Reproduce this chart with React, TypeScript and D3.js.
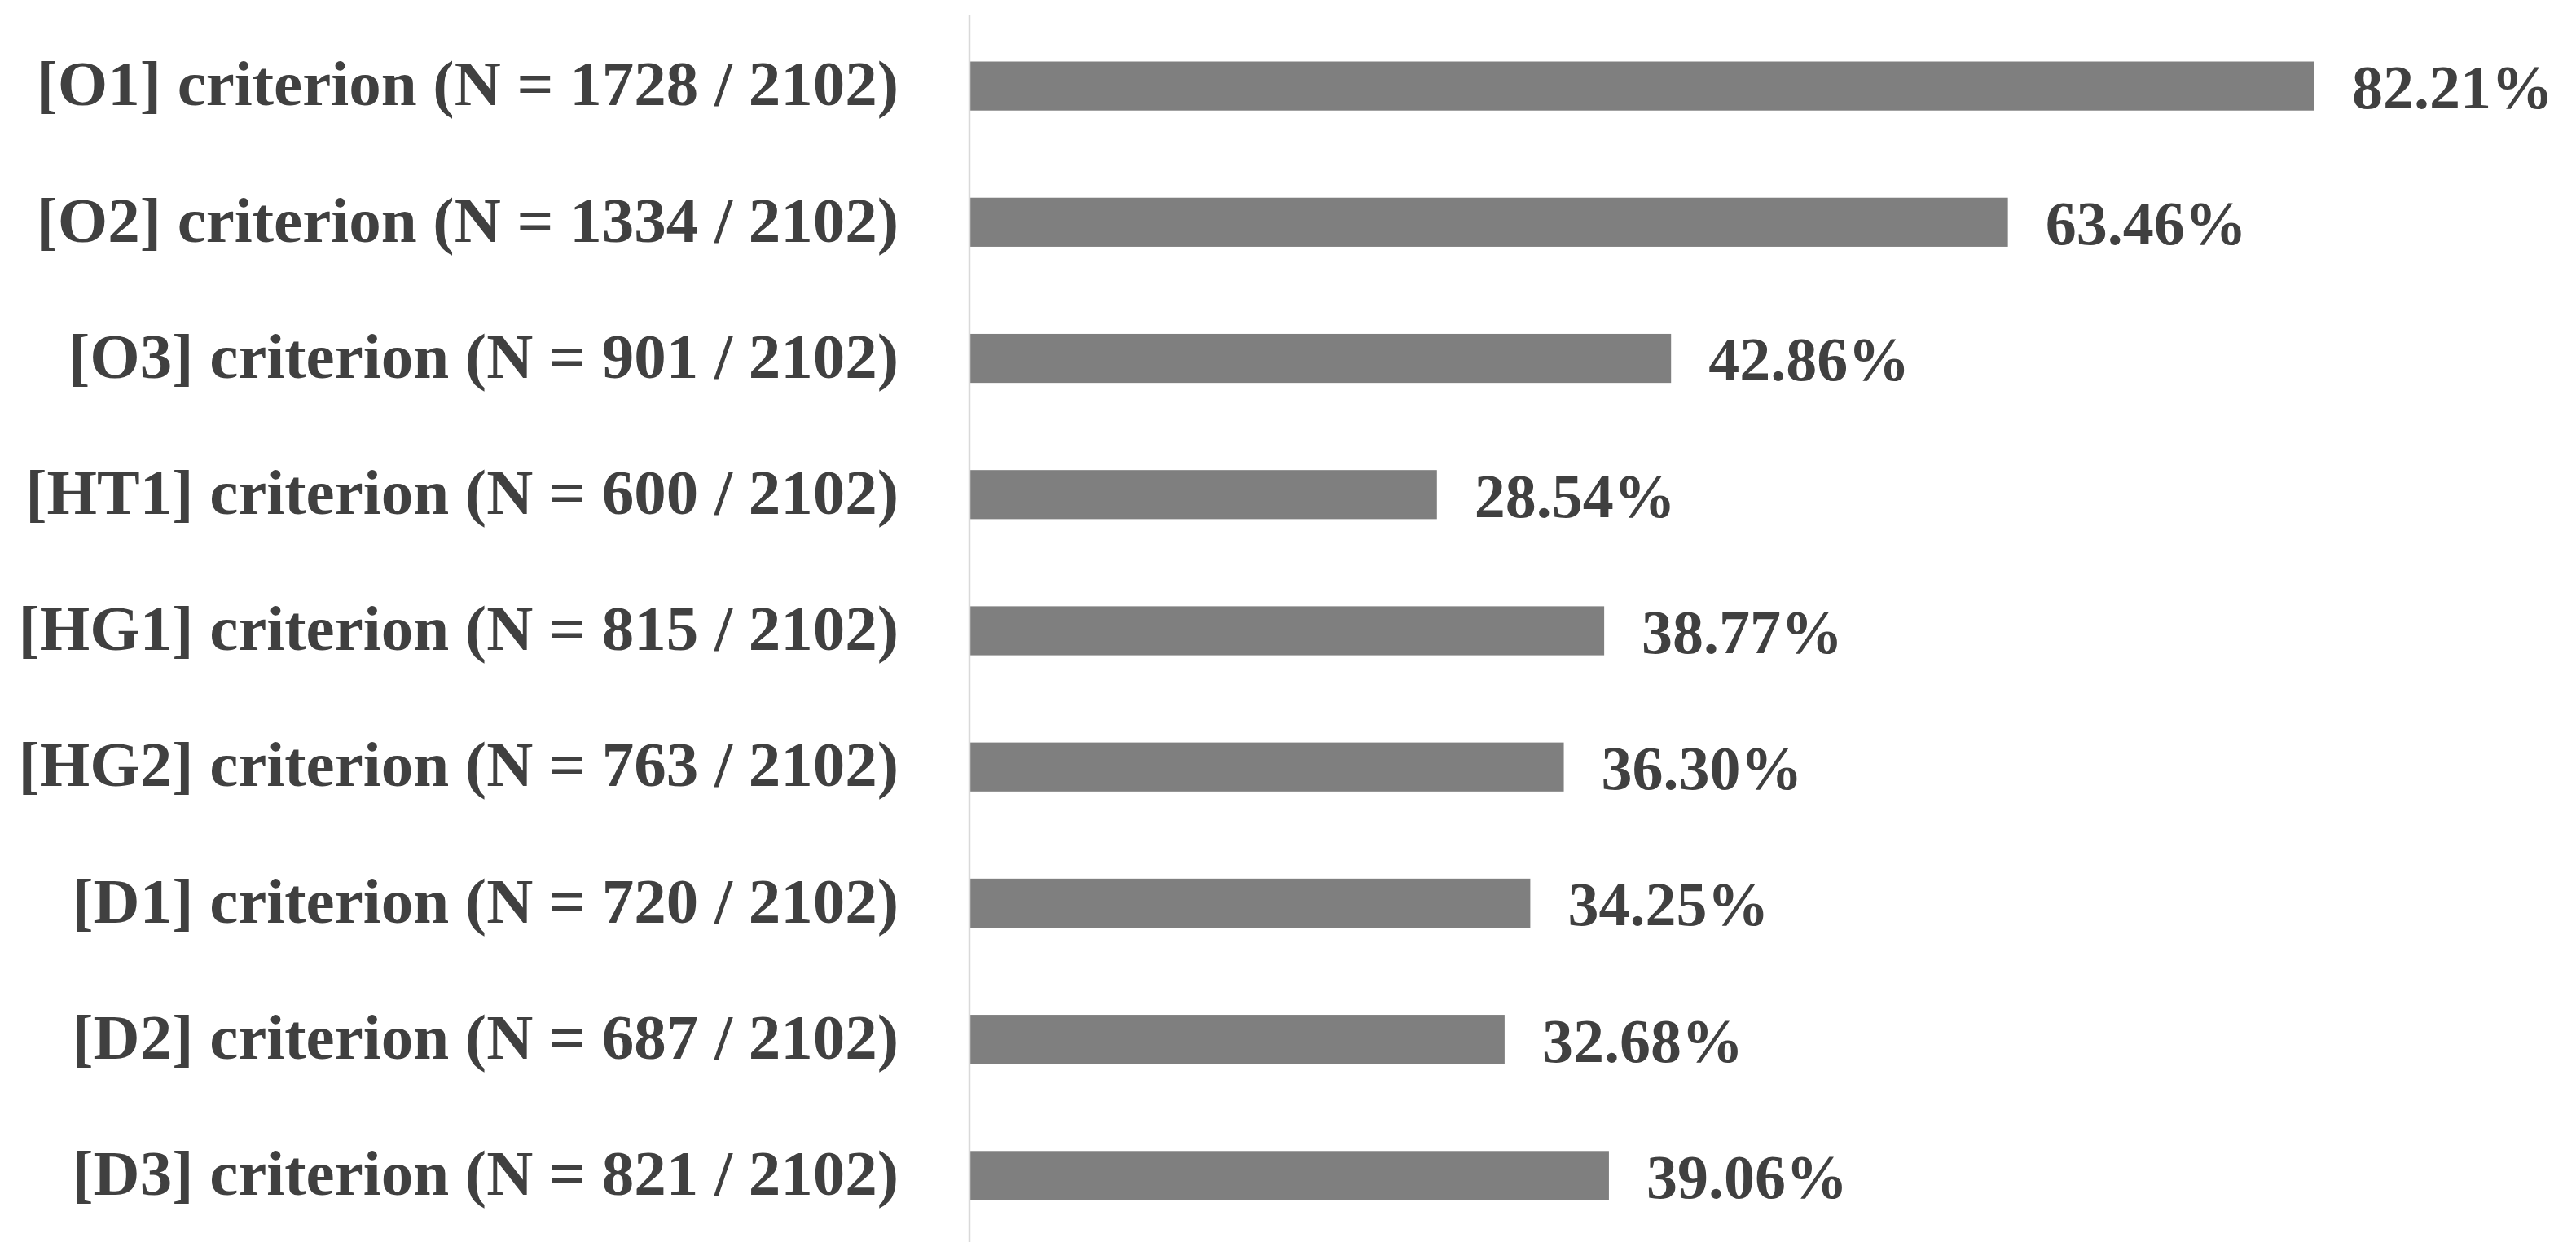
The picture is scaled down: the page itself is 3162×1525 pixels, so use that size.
import React from "react";
import * as d3 from "d3";

const categories: string[] = [
  "[O1] criterion (N = 1728 / 2102)",
  "[O2] criterion (N = 1334 / 2102)",
  "[O3] criterion (N = 901 / 2102)",
  "[HT1] criterion (N = 600 / 2102)",
  "[HG1] criterion (N = 815 / 2102)",
  "[HG2] criterion (N = 763 / 2102)",
  "[D1] criterion (N = 720 / 2102)",
  "[D2] criterion (N = 687 / 2102)",
  "[D3] criterion (N = 821 / 2102)",
];

const percentages: number[] = [82.21, 63.46, 42.86, 28.54, 38.77, 36.3, 34.25, 32.68, 39.06];

const W = 3162;
const H = 1525;
const AXIS_X = 1191;
const FONT = "'Liberation Serif', 'Times New Roman', serif";

export default function App() {
  const x = d3.scaleLinear().domain([0, 100]).range([AXIS_X, AXIS_X + 2007]);
  const y = d3
    .scaleBand<string>()
    .domain(categories)
    .range([22, 1527])
    .paddingInner(0.64)
    .paddingOuter(0.32);
  const bw = y.bandwidth();

  return (
    <svg
      width={W}
      height={H}
      style={{ position: "absolute", left: 0, top: 0, background: "#fff" }}
      xmlns="http://www.w3.org/2000/svg"
    >
      <rect x={0} y={0} width={W} height={H} fill="#ffffff" />
      {categories.map((c, i) => {
        const yc = (y(c) as number) + bw / 2;
        return (
          <g key={c}>
            <rect
              x={x(0)}
              y={y(c) as number}
              width={x(percentages[i]) - x(0)}
              height={bw}
              fill="#7f7f7f"
            />
            <text
              x={1103}
              y={yc}
              dy="0.3em"
              textAnchor="end"
              fontFamily={FONT}
              fontWeight="bold"
              fontSize={79}
              fill="#404040"
            >
              {c}
            </text>
            <text
              x={x(percentages[i]) + 46}
              y={yc}
              dy="0.36em"
              textAnchor="start"
              fontFamily={FONT}
              fontWeight="bold"
              fontSize={76}
              fill="#404040"
            >
              {percentages[i].toFixed(2) + "%"}
            </text>
          </g>
        );
      })}
      <line x1={1190} x2={1190} y1={19} y2={H} stroke="#d9d9d9" strokeWidth={2.5} />
    </svg>
  );
}
